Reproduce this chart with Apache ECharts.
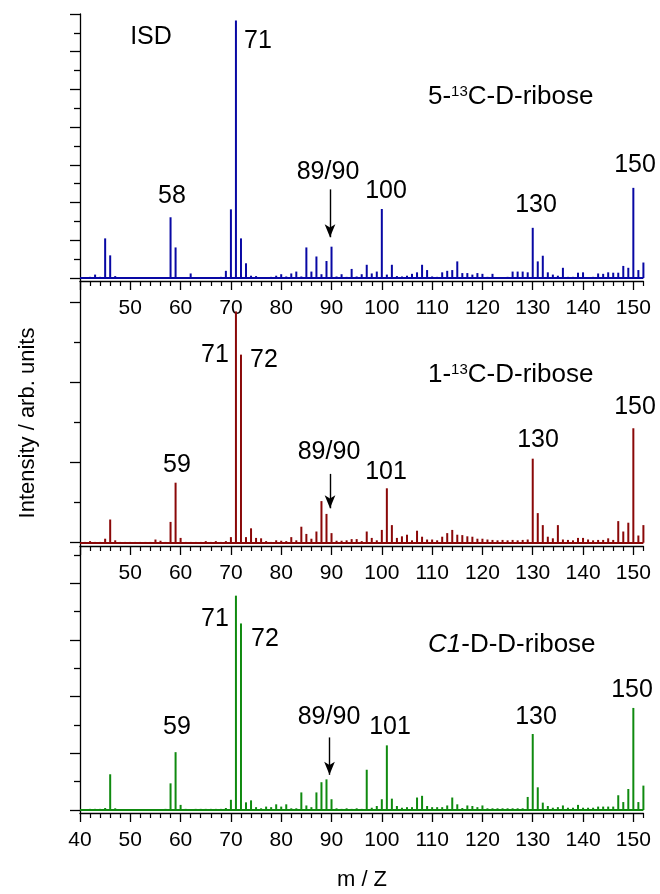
<!DOCTYPE html>
<html><head><meta charset="utf-8">
<script src="https://cdn.jsdelivr.net/npm/echarts@6/dist/echarts.min.js"></script>
<style>html,body{margin:0;padding:0;background:#fff}#c{width:660px;height:894px}</style>
</head><body><div id="c"></div>
<script>
// m/z values (shared by the three spectra)
const mz = [41,42,43,44,45,46,47,48,49,50,
  51,52,53,54,55,56,57,58,59,60,
  61,62,63,64,65,66,67,68,69,70,
  71,72,73,74,75,76,77,78,79,80,
  81,82,83,84,85,86,87,88,89,90,
  91,92,93,94,95,96,97,98,99,100,
  101,102,103,104,105,106,107,108,109,110,
  111,112,113,114,115,116,117,118,119,120,
  121,122,123,124,125,126,127,128,129,130,
  131,132,133,134,135,136,137,138,139,140,
  141,142,143,144,145,146,147,148,149,150,
  151,152];

// 5-13C-D-ribose (blue)
const ribose5 = [0.02,0.03,0.09,0.03,1.05,0.6,0.05,0.02,0.02,0.02,
  0.02,0.02,0.02,0.02,0.02,0.02,0.02,1.61,0.81,0.02,
  0.02,0.12,0.02,0.02,0.02,0.02,0.02,0.03,0.19,1.82,
  6.83,1.05,0.39,0.06,0.05,0.02,0.02,0.03,0.06,0.1,
  0.04,0.12,0.17,0.04,0.81,0.17,0.57,0.1,0.45,0.83,
  0.04,0.1,0.03,0.24,0.04,0.1,0.35,0.12,0.17,1.83,
  0.09,0.35,0.05,0.04,0.06,0.11,0.15,0.35,0.21,0.04,
  0.03,0.15,0.19,0.21,0.44,0.13,0.13,0.09,0.13,0.11,
  0.03,0.11,0.02,0.02,0.03,0.17,0.17,0.17,0.15,1.33,
  0.44,0.59,0.15,0.09,0.06,0.27,0.03,0.03,0.14,0.15,
  0.02,0.03,0.12,0.11,0.15,0.14,0.14,0.32,0.27,2.39,
  0.21,0.41];

// 1-13C-D-ribose (red)
const ribose1 = [0.01,0.02,0.01,0.01,0.05,0.29,0.03,0.01,0.01,0.01,
  0.01,0.01,0.01,0.01,0.04,0.025,0.01,0.26,0.75,0.06,
  0.01,0.01,0.01,0.01,0.02,0.01,0.02,0.01,0.02,0.07,
  2.89,2.35,0.07,0.18,0.06,0.055,0.02,0.01,0.03,0.025,
  0.02,0.07,0.03,0.2,0.11,0.05,0.14,0.52,0.36,0.12,
  0.025,0.025,0.03,0.045,0.045,0.02,0.14,0.06,0.03,0.16,
  0.68,0.22,0.06,0.08,0.1,0.03,0.15,0.075,0.04,0.04,
  0.03,0.075,0.12,0.16,0.1,0.095,0.08,0.075,0.05,0.05,
  0.04,0.035,0.03,0.035,0.03,0.035,0.03,0.035,0.04,1.05,
  0.37,0.22,0.075,0.055,0.22,0.04,0.035,0.03,0.06,0.06,
  0.04,0.03,0.035,0.035,0.055,0.035,0.27,0.14,0.25,1.43,
  0.09,0.22];

// C1-D-D-ribose (green)
const riboseC1D = [0.01,0.02,0.02,0.02,0.035,0.63,0.03,0.01,0.01,0.01,
  0.01,0.01,0.01,0.01,0.01,0.015,0.02,0.47,1.02,0.09,
  0.02,0.015,0.02,0.02,0.02,0.02,0.02,0.02,0.035,0.18,
  3.78,3.29,0.135,0.17,0.05,0.03,0.06,0.05,0.1,0.06,
  0.1,0.03,0.03,0.31,0.08,0.05,0.31,0.49,0.54,0.19,
  0.03,0.02,0.03,0.02,0.03,0.02,0.71,0.04,0.07,0.19,
  1.14,0.2,0.07,0.04,0.05,0.05,0.22,0.25,0.07,0.05,
  0.05,0.05,0.08,0.22,0.1,0.035,0.08,0.07,0.05,0.08,
  0.03,0.03,0.03,0.03,0.03,0.03,0.03,0.03,0.23,1.34,
  0.4,0.13,0.07,0.04,0.05,0.08,0.04,0.04,0.09,0.04,
  0.04,0.04,0.06,0.06,0.06,0.06,0.26,0.14,0.37,1.8,
  0.14,0.43];

// x ticks
const xMajor = [40,50,60,70,80,90,100,110,120,130,140,150];
const xMinor = [42,44,46,48,52,54,56,58,62,64,66,68,72,74,76,78,82,84,86,88,
  92,94,96,98,102,104,106,108,112,114,116,118,122,124,126,128,
  132,134,136,138,142,144,146,148,152];
// y extents of each panel (arb. units) and tick positions
const yRanges = [[-0.08, 7.0], [-0.041, 3.27], [-0.053, 4.656]];
const yMajor = [[0,1,2,3,4,5,6,7],[0,1,2,3],[0,1,2,3,4]];
const yMinor = [[0.5,1.5,2.5,3.5,4.5,5.5,6.5],[0.5,1.5,2.5],[0.5,1.5,2.5,3.5,4.5]];
// arrows marking m/z 89/90 : [x, yFrom, yTo]
const arrows = [[89.7, 2.35, 1.08],[89.7, 0.86, 0.43],[89.6, 1.28, 0.62]];

const colors = ['#0808a4', '#8a0808', '#0f8a0f'];
const spectra = [ribose5, ribose1, riboseC1D];
const FONT = '"Liberation Sans", Arial, sans-serif';

const grids = [
  {left: 80, width: 563.4, top: 14, height: 267},
  {left: 80, width: 563.4, top: 281, height: 265},
  {left: 80, width: 563.4, top: 546, height: 267}
];

const xAxes = [], yAxes = [], series = [];
for (let i = 0; i < 3; i++) {
  // main x axis (line, major ticks, labels)
  xAxes.push({
    type: 'value', gridIndex: i, min: 40, max: 152, interval: 10, position: 'bottom',
    axisLine: {show: true, onZero: false, lineStyle: {color: '#000', width: 1.3}},
    axisTick: {show: true, length: 9, customValues: xMajor, lineStyle: {color: '#000', width: 1.3}},
    axisLabel: {show: true, fontSize: 21, color: '#000', fontFamily: FONT, margin: 17,
      customValues: i === 2 ? xMajor : xMajor.slice(1)},
    splitLine: {show: false}
  });
  // minor x ticks
  xAxes.push({
    type: 'value', gridIndex: i, min: 40, max: 152, interval: 10, position: 'bottom',
    axisLine: {show: false, onZero: false},
    axisTick: {show: true, length: 5, customValues: xMinor, lineStyle: {color: '#000', width: 1.2}},
    axisLabel: {show: false},
    splitLine: {show: false}
  });
  yAxes.push({
    type: 'value', gridIndex: i, min: yRanges[i][0], max: yRanges[i][1], position: 'left',
    axisLine: {show: true, onZero: false, lineStyle: {color: '#000', width: 1.3}},
    axisTick: {show: true, length: 10, customValues: yMajor[i], lineStyle: {color: '#000', width: 1.3}},
    axisLabel: {show: false},
    splitLine: {show: false}
  });
  yAxes.push({
    type: 'value', gridIndex: i, min: yRanges[i][0], max: yRanges[i][1], position: 'left',
    axisLine: {show: false, onZero: false},
    axisTick: {show: true, length: 6, customValues: yMinor[i], lineStyle: {color: '#000', width: 1.3}},
    axisLabel: {show: false},
    splitLine: {show: false}
  });
  const d = mz.map((m, k) => [m, spectra[i][k]]);
  series.push({
    type: 'bar', xAxisIndex: 2 * i, yAxisIndex: 2 * i, data: d,
    barWidth: 2, itemStyle: {color: colors[i]},
    silent: true, animation: false,
    markLine: {
      silent: true, symbol: 'none', label: {show: false},
      lineStyle: {color: colors[i], width: 2, type: 'solid'},
      data: [{yAxis: 0}]
    }
  });
  series.push({
    type: 'line', xAxisIndex: 2 * i, yAxisIndex: 2 * i, data: [],
    silent: true, animation: false,
    markLine: {
      silent: true, symbol: ['none', 'arrow'], symbolSize: [8, 13],
      label: {show: false},
      lineStyle: {color: '#000', width: 1.4, type: 'solid'},
      itemStyle: {color: '#000'},
      data: [[{coord: [arrows[i][0], arrows[i][1]]}, {coord: [arrows[i][0], arrows[i][2]]}]]
    }
  });
}

function txt(x, y, text, opts) {
  return {
    type: 'text', x: x, y: y, silent: true,
    style: Object.assign({text: text, fill: '#000', font: '25px ' + FONT,
      textAlign: 'center', textVerticalAlign: 'middle'}, opts || {})
  };
}
function rich(x, y, text, richStyle) {
  return {type: 'text', x: x, y: y, silent: true,
    style: {text: text, textAlign: 'left', textVerticalAlign: 'middle', rich: richStyle}};
}
const base = {fontSize: 26, fontFamily: FONT, fill: '#000'};
const sup = {fontSize: 15, fontFamily: FONT, fill: '#000', verticalAlign: 'top'};
const graphic = [
  txt(151, 37, 'ISD'),
  txt(258, 41, '71'),
  rich(428, 97, '{a|5-}{s|13}{a|C-D-ribose}', {a: base, s: sup}),
  txt(172, 196, '58'),
  txt(328, 172, '89/90'),
  txt(386, 191, '100'),
  txt(536, 205, '130'),
  txt(635, 165, '150'),

  txt(215, 355, '71'),
  txt(264, 360, '72'),
  rich(428, 375, '{a|1-}{s|13}{a|C-D-ribose}', {a: base, s: sup}),
  txt(177, 465, '59'),
  txt(329, 452, '89/90'),
  txt(386, 472, '101'),
  txt(538, 440, '130'),
  txt(635, 407, '150'),

  txt(215, 619, '71'),
  txt(265, 639, '72'),
  rich(428, 645, '{i|C1}{a|-D-D-ribose}', {a: base, i: {fontSize: 26, fontFamily: FONT, fill: '#000', fontStyle: 'italic'}}),
  txt(177, 727, '59'),
  txt(329, 717, '89/90'),
  txt(390, 727, '101'),
  txt(536, 717, '130'),
  txt(632, 690, '150'),

  txt(362, 880, 'm / Z', {font: '22px ' + FONT}),
  {type: 'text', x: 28, y: 423, rotation: Math.PI / 2, silent: true,
    style: {text: 'Intensity / arb. units', fill: '#000', font: '22px ' + FONT,
      textAlign: 'center', textVerticalAlign: 'middle'}}
];

const chart = echarts.init(document.getElementById('c'), null, {renderer: 'canvas'});
chart.setOption({
  animation: false,
  backgroundColor: '#fff',
  grid: grids,
  xAxis: xAxes,
  yAxis: yAxes,
  series: series,
  graphic: graphic
});
</script>
</body></html>
